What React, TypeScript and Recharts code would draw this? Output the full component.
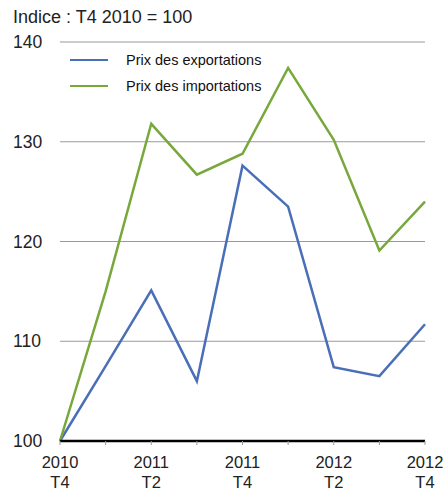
import React from 'react';
import { LineChart, Line, XAxis, YAxis, CartesianGrid } from 'recharts';

const categories = ['2010 T4', '2011 T1', '2011 T2', '2011 T3', '2011 T4', '2012 T1', '2012 T2', '2012 T3', '2012 T4'];
const exportPrices = [100, 107.5, 115.1, 106.0, 127.6, 123.5, 107.4, 106.5, 111.7];
const importPrices = [100, 115.0, 131.8, 126.7, 128.8, 137.4, 130.2, 119.1, 124.0];
const yTicks = [100, 110, 120, 130, 140];
const seriesNames = ['Prix des exportations', 'Prix des importations'];
const title = 'Indice : T4 2010 = 100';

const data = categories.map((c, i) => ({ cat: c, exp: exportPrices[i], imp: importPrices[i] }));

const BLUE = '#4a6fb6';
const GREEN = '#78a83c';
const FONT = '"Liberation Sans", Arial, sans-serif';

const XTick = (props: any) => {
  const { x, payload, index } = props;
  if (index % 2 !== 0) return null;
  const [yr, q] = String(payload.value).split(' ');
  return (
    <g>
      <text x={x} y={468} textAnchor="middle" fontFamily={FONT} fontSize={16.5} fill="#222">{yr}</text>
      <text x={x} y={488} textAnchor="middle" fontFamily={FONT} fontSize={16.5} fill="#222">{q}</text>
    </g>
  );
};

const YTick = (props: any) => {
  const { y, payload } = props;
  return (
    <text x={13} y={y + 6} textAnchor="start" fontFamily={FONT} fontSize={17.5} fill="#222">
      {payload.value}
    </text>
  );
};

export default function App() {
  return (
    <div style={{ position: 'absolute', left: 0, top: 0, width: 446, height: 492, background: '#fff' }}>
      <LineChart width={446} height={492} data={data} margin={{ top: 42, right: 21, bottom: 0, left: 0 }}>
        <CartesianGrid vertical={false} stroke="#9a9a9a" strokeWidth={1.2} />
        <XAxis
          dataKey="cat"
          interval={0}
          height={51}
          tick={<XTick />}
          axisLine={{ stroke: '#000', strokeWidth: 2.5 }}
          tickLine={{ stroke: '#999' }}
          tickSize={4}
        />
        <YAxis
          domain={[100, 140]}
          ticks={yTicks}
          width={60}
          axisLine={false}
          tickLine={false}
          tick={<YTick />}
        />
        <Line dataKey="exp" name={seriesNames[0]} stroke={BLUE} strokeWidth={2.5} dot={false} isAnimationActive={false} />
        <Line dataKey="imp" name={seriesNames[1]} stroke={GREEN} strokeWidth={2.5} dot={false} isAnimationActive={false} />
      </LineChart>
      <div style={{ position: 'absolute', left: 13, top: 7, fontFamily: FONT, fontSize: 18, color: '#222', whiteSpace: 'nowrap' }}>
        {title}
      </div>
      <div style={{ position: 'absolute', left: 70, top: 47, fontFamily: FONT, fontSize: 14.5, color: '#111' }}>
        {seriesNames.map((n, i) => (
          <div key={n} style={{ display: 'flex', alignItems: 'center', height: 26, whiteSpace: 'nowrap' }}>
            <div style={{ width: 38, height: 2.5, background: i === 0 ? BLUE : GREEN, marginRight: 18 }} />
            <span>{n}</span>
          </div>
        ))}
      </div>
    </div>
  );
}
